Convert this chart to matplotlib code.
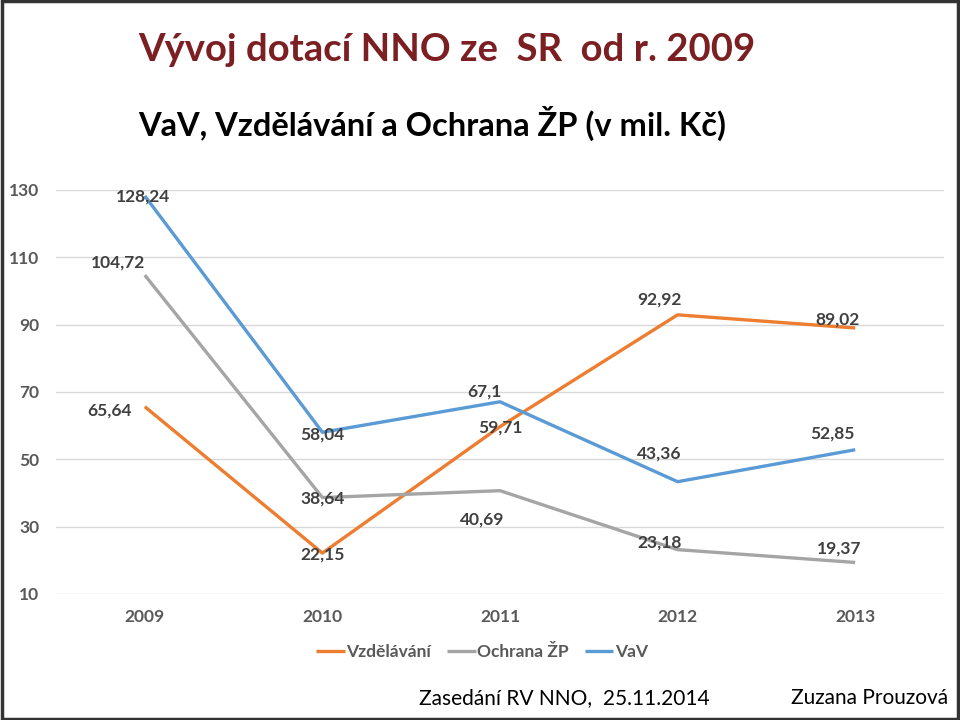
import matplotlib
matplotlib.use("Agg")
import matplotlib.pyplot as plt
from matplotlib.patches import Rectangle

years = ["2009", "2010", "2011", "2012", "2013"]
vzdelavani = [65.64, 22.15, 59.71, 92.92, 89.02]
ochrana = [104.72, 38.64, 40.69, 23.18, 19.37]
vav = [128.24, 58.04, 67.1, 43.36, 52.85]
yticks = [10, 30, 50, 70, 90, 110, 130]

# label offsets in pixels (style only)
off_vzd = [(-35, -4), (0, -1), (0, -1), (-18, 15), (-18, 8)]
off_och = [(-27, 13), (0, -1), (-18, -29), (-18, 7), (-16, 14)]
off_vav = [(-2, -1), (0, -2), (-16, 10), (-18, 28), (-23, 16)]

FONT = ["Lato", "DejaVu Sans"]
plt.rcParams['font.family'] = FONT

fig = plt.figure(figsize=(9.6, 7.2), dpi=100)
ax = fig.add_axes([56/960, 1-594/720, (944-56)/960, (594-190)/720])

x = list(range(len(years)))
c_vzd, c_och, c_vav = "#ED7D31", "#A5A5A5", "#5B9BD5"
ax.plot(x, vzdelavani, color=c_vzd, lw=2.4, label="Vzdělávání", solid_capstyle="butt")
ax.plot(x, ochrana, color=c_och, lw=2.4, label="Ochrana ŽP", solid_capstyle="butt")
ax.plot(x, vav, color=c_vav, lw=2.4, label="VaV", solid_capstyle="butt")

def fmt(v):
    s = f"{v:.2f}".rstrip("0").rstrip(".")
    return s.replace(".", ",")

for vals, offs in ((vzdelavani, off_vzd), (ochrana, off_och), (vav, off_vav)):
    for xi, v, (dx, dy) in zip(x, vals, offs):
        ax.annotate(fmt(v), (xi, v), xytext=(dx, dy), textcoords="offset pixels",
                    ha="center", va="center", fontsize=12.5, fontweight="bold",
                    color="#404040")

ax.set_xlim(-0.5, 4.5)
ax.set_ylim(10, 130)
ax.set_yticks(yticks)
ax.set_xticks(x)
ax.set_xticklabels(years)
ax.grid(axis="y", color="#D9D9D9", lw=1)
ax.set_axisbelow(True)
for s in ax.spines.values():
    s.set_visible(False)
ax.tick_params(axis="both", length=0, labelsize=12.5, labelcolor="#595959")
ax.tick_params(axis="y", pad=12)
ax.tick_params(axis="x", pad=11)
for t in ax.get_xticklabels() + ax.get_yticklabels():
    t.set_fontweight("bold")

leg = ax.legend(loc="center", bbox_to_anchor=(482/960, 1-652/720), bbox_transform=fig.transFigure,
                ncol=3, frameon=False, fontsize=12.5, handlelength=1.65, handletextpad=0.1,
                columnspacing=0.9)
for t in leg.get_texts():
    t.set_color("#595959")
    t.set_fontweight("bold")

fig.text(138/960, 1-50/720, "Vývoj dotací NNO ze  SR  od r. 2009", fontsize=27.5,
         color="#7B1F22", ha="left", va="center", fontweight="bold")
fig.text(138/960, 1-123/720, "VaV, Vzdělávání a Ochrana ŽP (v mil. Kč)", fontsize=23.5,
         color="black", ha="left", va="center", fontweight="bold")
fig.text(564/960, 1-698/720, "Zasedání RV NNO,  25.11.2014", fontsize=15,
         color="black", ha="center", va="center")
fig.text(870/960, 1-698/720, "Zuzana Prouzová", fontsize=15,
         color="black", ha="center", va="center")

fig.patches.append(Rectangle((0.002, 0.002), 0.996, 0.996, transform=fig.transFigure,
                             fill=False, edgecolor="#333333", lw=2.5))

fig.savefig("out.png", dpi=100)
